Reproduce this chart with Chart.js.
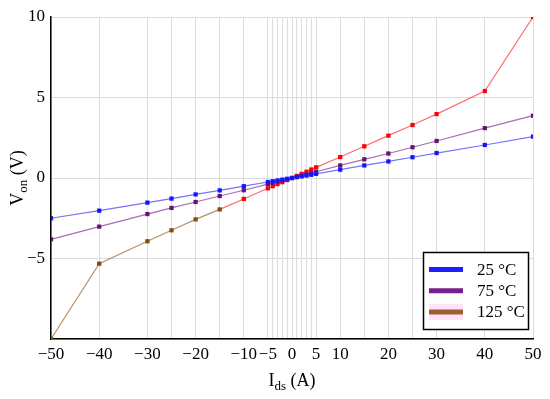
<!DOCTYPE html>
<html>
<head>
  <meta charset="UTF-8">
  <title>Von vs Ids</title>
  <script src="https://cdn.jsdelivr.net/npm/chart.js"></script>
  <style>
    body { margin: 0; background: #fff; }
    #wrap { width: 550px; height: 399px; }
  </style>
</head>
<body>
  <div id="wrap"><canvas id="graphique" width="550" height="399"></canvas></div>
  <script>
    // courant (A)
    const courant = [-50, -40, -30, -25, -20, -15, -10, -5, -4, -3, -2, -1, 0, 1, 2, 3, 4, 5, 10, 15, 20, 25, 30, 40, 50];
    const v25 = [-2.5, -2.03, -1.53, -1.28, -1.02, -0.77, -0.51, -0.25, -0.2, -0.15, -0.1, -0.05, 0, 0.05, 0.1, 0.15, 0.2, 0.26, 0.52, 0.78, 1.03, 1.29, 1.55, 2.05, 2.57];
    const v75 = [-3.81, -3.02, -2.24, -1.86, -1.49, -1.12, -0.76, -0.38, -0.3, -0.23, -0.15, -0.08, 0, 0.08, 0.15, 0.23, 0.31, 0.39, 0.78, 1.16, 1.52, 1.91, 2.3, 3.1, 3.87];
    const v125 = [-10, -5.32, -3.93, -3.25, -2.57, -1.95, -1.3, -0.64, -0.51, -0.38, -0.26, -0.13, 0, 0.13, 0.26, 0.39, 0.53, 0.66, 1.3, 1.97, 2.63, 3.29, 3.97, 5.4, 10];
    const grilleX = [-50, -40, -30, -25, -20, -15, -10, -5, -4, -3, -2, -1, 0, 1, 2, 3, 4, 5, 10, 15, 20, 25, 30, 40, 50];
    const etiquettesX = [-50, -40, -30, -20, -10, -5, 0, 5, 10, 20, 30, 40, 50];
    const etiquettes = ['25 °C', '75 °C', '125 °C'];

    const police = "'Liberation Serif', 'DejaVu Serif', serif";
    const moins = v => String(v).replace('-', '\u2212');

    const brun = 'rgb(125,80,15)';
    const rouge = 'rgb(255,0,0)';

    const pts = arr => courant.map((x, i) => ({ x: x, y: arr[i] }));

    const titres = {
      id: 'titres',
      afterDraw(chart) {
        const c = chart.ctx;
        const a = chart.chartArea;
        c.save();
        c.fillStyle = '#000';
        c.textBaseline = 'alphabetic';
        const largeur = (parts) => {
          let w = 0;
          parts.forEach(p => { c.font = p.f; w += c.measureText(p.t).width; });
          return w;
        };
        // axe x : I_ds (A)
        const px = [
          { t: 'I', f: '18px ' + police, dy: 0 },
          { t: 'ds', f: '13px ' + police, dy: 4 },
          { t: ' (A)', f: '18px ' + police, dy: 0 }
        ];
        let w = largeur(px);
        let x = (a.left + a.right) / 2 - w / 2;
        px.forEach(p => { c.font = p.f; c.fillText(p.t, x, 386 + p.dy); x += c.measureText(p.t).width; });
        // axe y : V_on (V)
        const py = [
          { t: 'V', f: '18px ' + police, dy: 0 },
          { t: 'on', f: '13px ' + police, dy: 4 },
          { t: ' (V)', f: '18px ' + police, dy: 0 }
        ];
        w = largeur(py);
        c.translate(23, (a.top + a.bottom) / 2);
        c.rotate(-Math.PI / 2);
        x = -w / 2;
        py.forEach(p => { c.font = p.f; c.fillText(p.t, x, p.dy); x += c.measureText(p.t).width; });
        c.restore();
      }
    };

    const legende = {
      id: 'legende',
      afterDraw(chart) {
        const c = chart.ctx;
        const couleurs = ['rgb(30,30,255)', 'rgb(120,30,140)', 'rgb(160,95,50)'];
        c.save();
        c.fillStyle = '#fff';
        c.fillRect(423, 252, 105, 77);
        c.strokeStyle = '#000';
        c.lineWidth = 1.5;
        c.strokeRect(423.5, 252.5, 105, 77);
        c.fillStyle = 'rgba(255,200,240,0.5)';
        c.fillRect(429, 304, 34, 16);
        etiquettes.forEach((t, i) => {
          const y = 269.5 + i * 21.2;
          c.strokeStyle = couleurs[i];
          c.lineWidth = 5;
          c.beginPath();
          c.moveTo(429, y);
          c.lineTo(463, y);
          c.stroke();
          c.fillStyle = '#000';
          c.font = '17px ' + police;
          c.textBaseline = 'middle';
          c.fillText(t, 477, y + 1);
        });
        c.restore();
      }
    };

    new Chart(document.getElementById('graphique'), {
      type: 'line',
      data: {
        datasets: [
          {
            label: etiquettes[0],
            data: pts(v25),
            borderColor: 'rgba(40,40,255,0.65)',
            backgroundColor: 'rgb(20,20,255)',
            borderWidth: 1.2,
            pointStyle: 'rect',
            pointRadius: 3,
            pointBorderWidth: 0
          },
          {
            label: etiquettes[1],
            data: pts(v75),
            borderColor: 'rgba(120,30,130,0.65)',
            backgroundColor: 'rgb(100,20,120)',
            borderWidth: 1.2,
            pointStyle: 'rect',
            pointRadius: 3,
            pointBorderWidth: 0
          },
          {
            label: etiquettes[2],
            data: pts(v125),
            borderColor: 'rgba(255,0,0,0.65)',
            backgroundColor: rouge,
            segment: {
              borderColor: s => s.p1.parsed.x < -12 ? 'rgba(150,100,40,0.7)' : 'rgba(255,30,30,0.65)'
            },
            pointBackgroundColor: ctx => (ctx.raw && ctx.raw.x < -12) ? brun : rouge,
            borderWidth: 1.2,
            pointStyle: 'rect',
            pointRadius: 3,
            pointBorderWidth: 0
          }
        ]
      },
      options: {
        animation: false,
        responsive: false,
        layout: { padding: { left: 0, top: 17, right: 17, bottom: 0 } },
        plugins: { legend: { display: false }, tooltip: { enabled: false } },
        scales: {
          x: {
            type: 'linear',
            min: -50,
            max: 50,
            afterBuildTicks: s => { s.ticks = grilleX.map(v => ({ value: v })); },
            afterFit: s => { s.height = 60; },
            grid: { color: '#dcdcdc', drawTicks: false },
            border: { color: '#000', width: 1.5 },
            ticks: {
              autoSkip: false,
              maxRotation: 0,
              padding: 5,
              color: '#000',
              font: { family: police, size: 17 },
              callback: v => etiquettesX.includes(v) ? moins(v) : ''
            }
          },
          y: {
            min: -10,
            max: 10,
            afterFit: s => { s.width = 51; },
            grid: { color: '#dcdcdc', drawTicks: false },
            border: { color: '#000', width: 1.5 },
            ticks: {
              stepSize: 5,
              padding: 6,
              color: '#000',
              font: { family: police, size: 17 },
              callback: v => v === -10 ? '' : moins(v)
            }
          }
        }
      },
      plugins: [titres, legende]
    });
  </script>
</body>
</html>
